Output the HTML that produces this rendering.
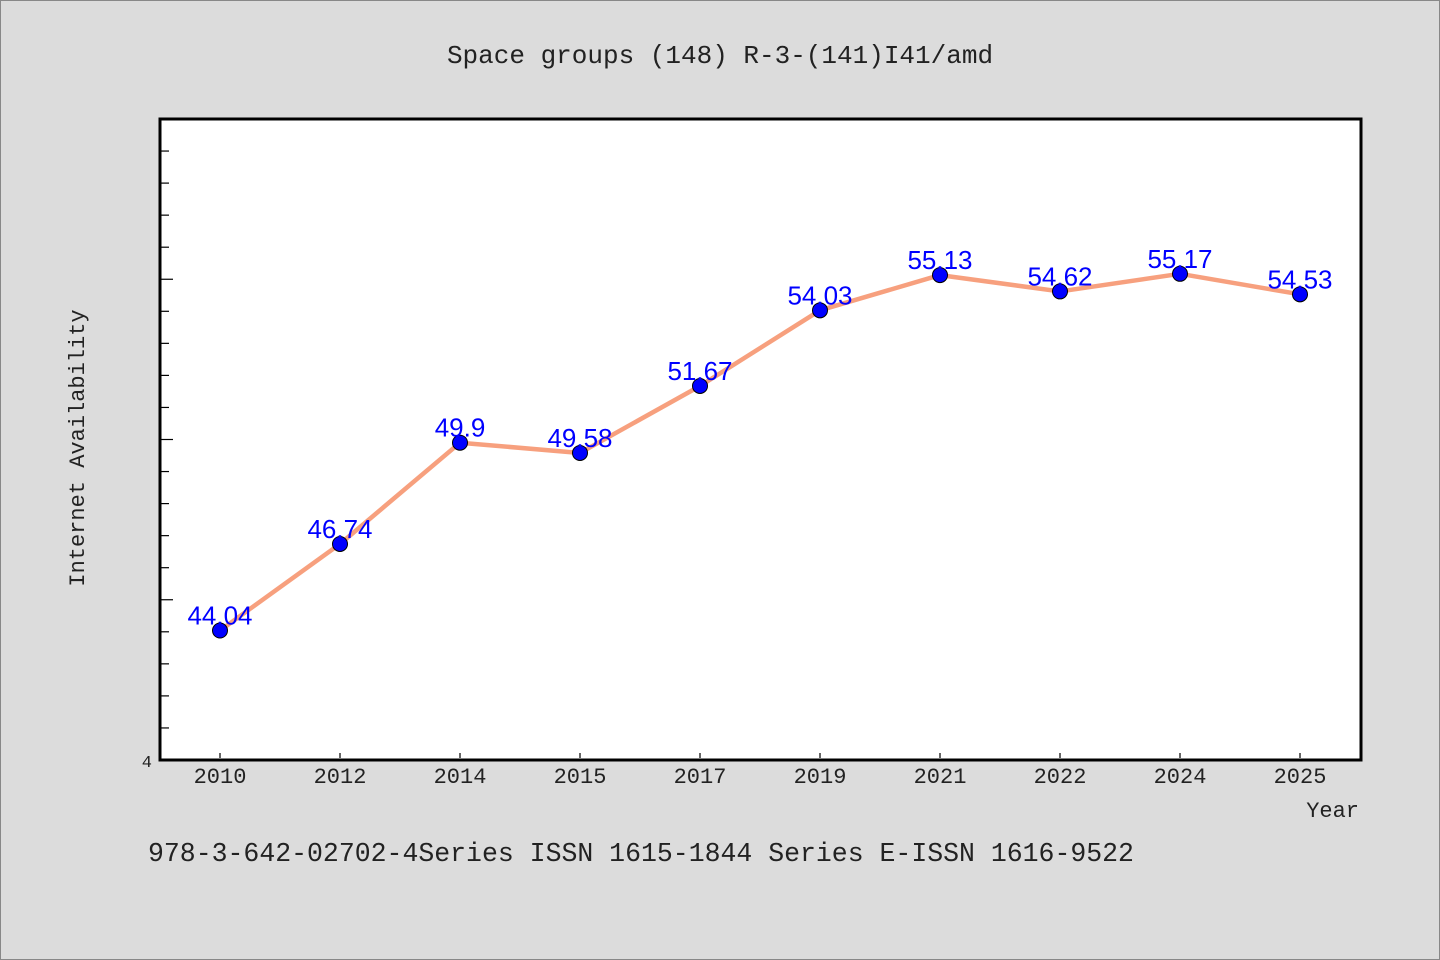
<!DOCTYPE html>
<html><head><meta charset="utf-8"><style>
html,body{margin:0;padding:0;background:#dcdcdc;}
svg{display:block;}
text{font-family:"Liberation Mono","DejaVu Sans Mono",monospace;}
</style></head><body>
<svg width="1440" height="960" viewBox="0 0 1440 960">
<rect x="0.5" y="0.5" width="1439" height="959" fill="#dcdcdc" stroke="#888"/>
<text x="720" y="63" font-size="26" text-anchor="middle" fill="#222">Space groups (148) R-3-(141)I41/amd</text>
<rect x="160" y="119" width="1201" height="641" fill="#fff" stroke="#000" stroke-width="3"/>
<g id="yticks"></g>
<g id="xticks"></g>
<text transform="translate(84,448) rotate(-90)" font-size="22" text-anchor="middle" fill="#222">Internet Availability</text>
<text x="1359" y="817" font-size="22" text-anchor="end" fill="#222">Year</text>
<text x="148" y="861" font-size="26.5" fill="#222">978-3-642-02702-4Series ISSN 1615-1844 Series E-ISSN 1616-9522</text>
<g id="series"></g>
</svg>
<script>
const categories=["2010","2012","2014","2015","2017","2019","2021","2022","2024","2025"];
const values=[44.04,46.74,49.9,49.58,51.67,54.03,55.13,54.62,55.17,54.53];
const yMin=40, yMax=60;
const NS="http://www.w3.org/2000/svg";
const x=i=>220+i*120;
const y=v=>760-(v-yMin)*(641/(yMax-yMin));
function mk(t,a,p){const e=document.createElementNS(NS,t);for(const k in a)e.setAttribute(k,a[k]);p.appendChild(e);return e;}
const yt=document.getElementById('yticks');
for(let v=yMin+1;v<yMax;v++){
  const t=mk('line',{x1:161,x2:(v%5===0)?173:169,y1:y(v),y2:y(v),stroke:'#000','stroke-width':1.2},yt);
  
  
}
const yl=mk('text',{x:152,y:767,'font-size':17,'text-anchor':'end',fill:'#222'},yt);
yl.textContent="4";


const xt=document.getElementById('xticks');
categories.forEach((c,i)=>{
  const t=mk('line',{x1:x(i),x2:x(i),y1:758,y2:753,stroke:'#000','stroke-width':1.2},xt);
  
  
  const l=mk('text',{x:x(i),y:783,'font-size':22,'text-anchor':'middle',fill:'#222'},xt);
  l.textContent=c;
  
  
});
const s=document.getElementById('series');
const pl=mk('polyline',{points:values.map((v,i)=>x(i)+','+y(v)).join(' '),fill:'none',stroke:'#f7a07e','stroke-width':4.5,'stroke-linejoin':'round'},s);


values.forEach((v,i)=>{
  const c=mk('circle',{cx:x(i),cy:y(v),r:7.5,fill:'#0000ff',stroke:'#000','stroke-width':1},s);
  
  
  const l=mk('text',{x:x(i),y:y(v)-6,'font-size':26,'text-anchor':'middle',fill:'#0000ff'},s);
  l.setAttribute('style','font-family:"Liberation Sans","DejaVu Sans",sans-serif');
  l.textContent=String(v);
  
  
});
</script>
</body></html>
